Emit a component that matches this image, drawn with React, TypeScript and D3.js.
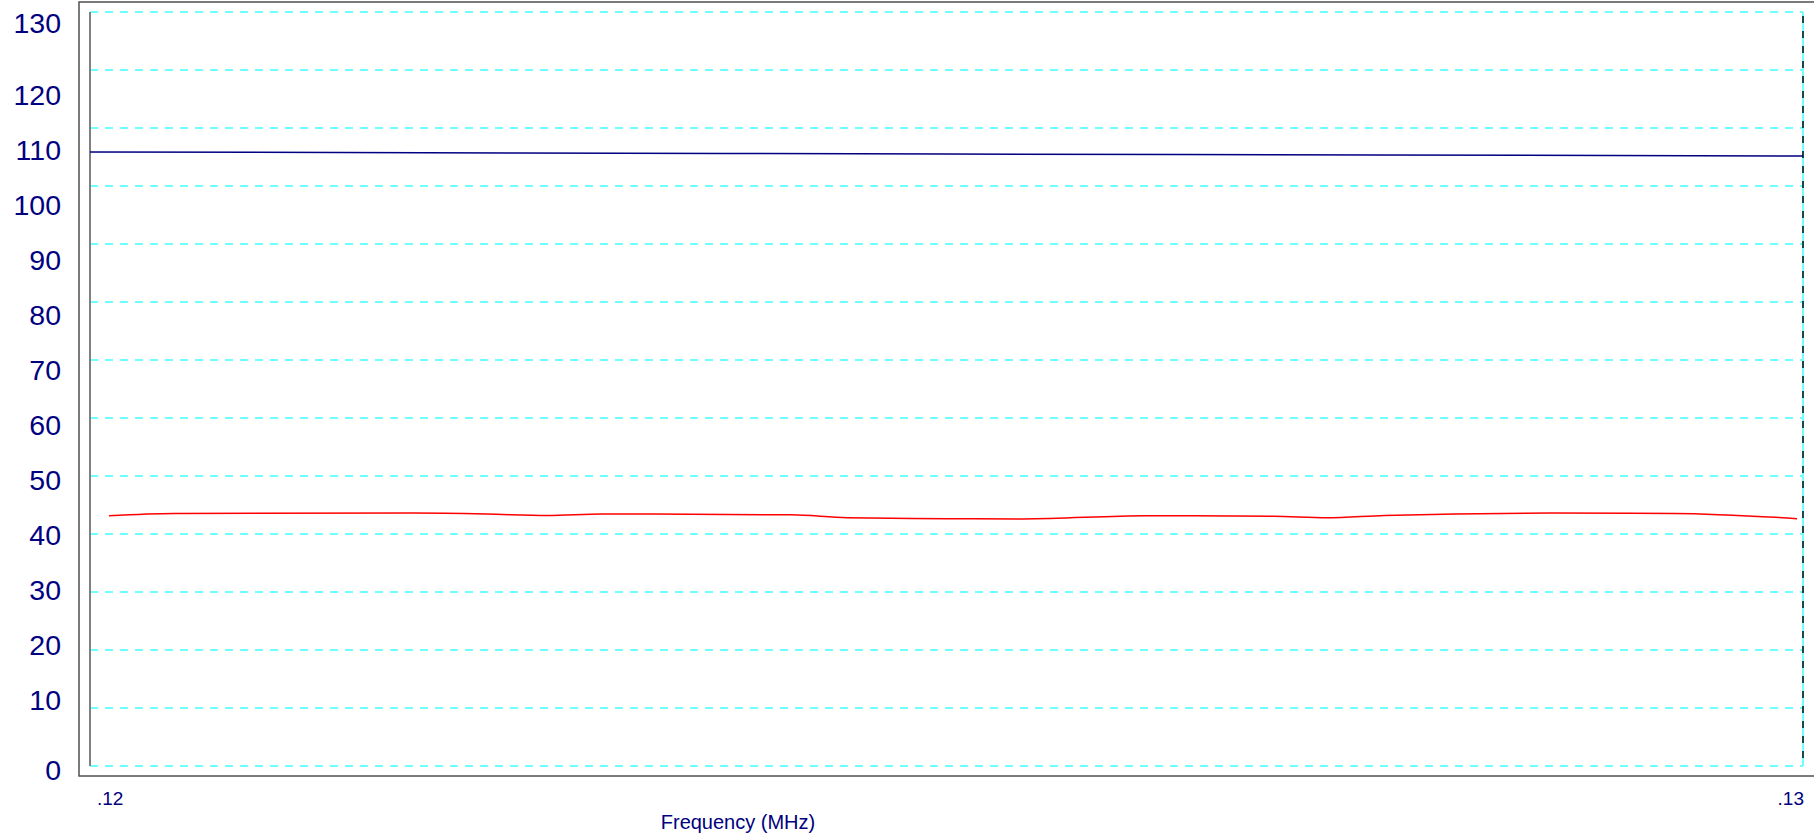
import React, { useEffect, useRef } from 'react';
import * as d3 from 'd3';

// Frequency sweep (MHz) and the two traces
const redFreq = [
  0.120111, 0.120491, 0.121887, 0.122313, 0.122669, 0.122991, 0.124095, 0.124422, 0.125006,
  0.12545, 0.126168, 0.12691, 0.12722, 0.127558, 0.128534, 0.129247, 0.129965,
];
const redValues = [
  43.15, 43.55, 43.6, 43.45, 43.2, 43.45, 43.3, 42.8, 42.65, 42.6, 43.15, 43.05, 42.8, 43.2, 43.6,
  43.55, 42.65,
];
const blueFreq = [0.12, 0.1225, 0.125, 0.1275, 0.13];
const blueValues = [105.86, 105.7, 105.5, 105.35, 105.17];

const yTicks = [0, 10, 20, 30, 40, 50, 60, 70, 80, 90, 100, 110, 120, 130];
const xTickLabels = ['.12', '.13'];
const xTitle = 'Frequency (MHz)';

const W = 1814;
const H = 835;

const App: React.FC = () => {
  const svgRef = useRef<SVGSVGElement | null>(null);

  useEffect(() => {
    const svg = d3.select(svgRef.current).attr('width', W).attr('height', H);
    svg.selectAll('*').remove();

    const x = d3.scaleLinear().domain([0.12, 0.13]).range([90, 1803]);
    const y = d3.scaleLinear().domain([0, 130]).range([766, 12]);
    // the tick labels sit on their own (slightly squeezed) spacing
    const yLabel = d3.scaleLinear().domain([0, 10, 120, 130]).range([770, 700, 95, 23]);

    svg.append('rect').attr('width', W).attr('height', H).attr('fill', '#fff');

    // outer frame
    svg.append('rect')
      .attr('x', 79).attr('y', 2)
      .attr('width', W).attr('height', 774)
      .attr('fill', 'none')
      .attr('stroke', '#505050')
      .attr('stroke-width', 1.5);

    // horizontal grid
    svg.append('g')
      .selectAll('line')
      .data(yTicks)
      .enter()
      .append('line')
      .attr('x1', x(0.12)).attr('x2', x(0.13))
      .attr('y1', (d) => y(d)).attr('y2', (d) => y(d))
      .attr('stroke', '#70ffff')
      .attr('stroke-width', 2)
      .attr('stroke-dasharray', '8 7');

    // left axis line
    svg.append('line')
      .attr('x1', x(0.12)).attr('x2', x(0.12))
      .attr('y1', y(130)).attr('y2', y(0))
      .attr('stroke', '#808080')
      .attr('stroke-width', 2);

    // right edge: cyan with dark dashes
    svg.append('line')
      .attr('x1', x(0.13)).attr('x2', x(0.13))
      .attr('y1', y(130)).attr('y2', y(0))
      .attr('stroke', '#70ffff')
      .attr('stroke-width', 2);
    svg.append('line')
      .attr('x1', x(0.13)).attr('x2', x(0.13))
      .attr('y1', y(130)).attr('y2', y(0))
      .attr('stroke', '#1f4545')
      .attr('stroke-width', 2)
      .attr('stroke-dasharray', '7 8')
      .attr('stroke-dashoffset', -4);

    // y labels
    svg.append('g')
      .selectAll('text')
      .data(yTicks)
      .enter()
      .append('text')
      .attr('x', 61)
      .attr('y', (d) => yLabel(d))
      .attr('dy', '0.36em')
      .attr('text-anchor', 'end')
      .attr('font-family', '"Liberation Sans", Arial, sans-serif')
      .attr('font-size', 28.5)
      .attr('fill', '#000080')
      .text((d) => String(d));

    // x labels
    const xl = svg.append('g')
      .attr('font-family', '"Liberation Sans", Arial, sans-serif')
      .attr('font-size', 19)
      .attr('fill', '#000080');
    xl.append('text')
      .attr('x', x(0.12) + 7).attr('y', 805)
      .attr('text-anchor', 'start')
      .text(xTickLabels[0]);
    xl.append('text')
      .attr('x', x(0.13) + 1).attr('y', 805)
      .attr('text-anchor', 'end')
      .text(xTickLabels[1]);
    svg.append('text')
      .attr('x', 738).attr('y', 829)
      .attr('text-anchor', 'middle')
      .attr('font-family', '"Liberation Sans", Arial, sans-serif')
      .attr('font-size', 20)
      .attr('fill', '#000080')
      .text(xTitle);

    const line = d3.line<[number, number]>()
      .x((d) => x(d[0]))
      .y((d) => y(d[1]))
      .curve(d3.curveMonotoneX);

    svg.append('path')
      .datum(blueFreq.map((f, i) => [f, blueValues[i]] as [number, number]))
      .attr('d', line)
      .attr('fill', 'none')
      .attr('stroke', '#000080')
      .attr('stroke-width', 1.5);

    svg.append('path')
      .datum(redFreq.map((f, i) => [f, redValues[i]] as [number, number]))
      .attr('d', line)
      .attr('fill', 'none')
      .attr('stroke', '#ff0000')
      .attr('stroke-width', 1.5);
  }, []);

  return (
    <div style={{ position: 'absolute', left: 0, top: 0 }}>
      <svg ref={svgRef} style={{ display: 'block' }}></svg>
    </div>
  );
};

export default App;
